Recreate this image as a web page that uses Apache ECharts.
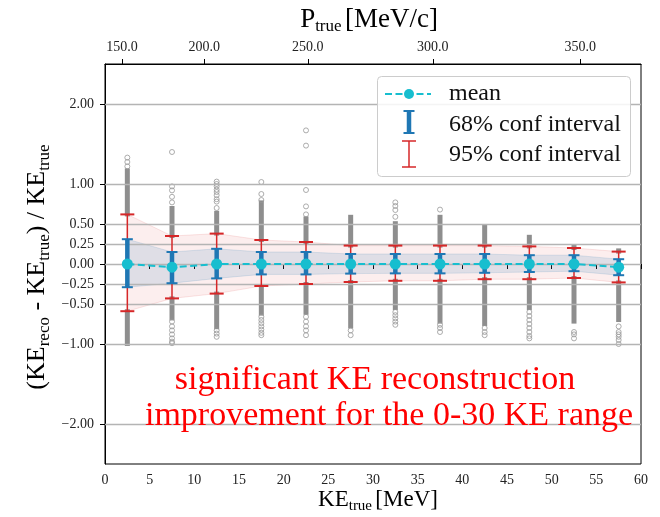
<!DOCTYPE html>
<html><head><meta charset="utf-8">
<script src="https://cdn.jsdelivr.net/npm/echarts@6/dist/echarts.min.js"></script>
<style>html,body{margin:0;padding:0;background:#fff}#c{width:660px;height:517px}</style>
</head><body><div id="c"></div>
<script>
// ---- data ----
const binCenters = [2.5, 7.5, 12.5, 17.5, 22.5, 27.5, 32.5, 37.5, 42.5, 47.5, 52.5, 57.5];
const means  = [0.00, -0.04, 0.00, 0.00, 0.00, 0.00, 0.00, 0.00, 0.00, 0.00, 0.00, -0.04];
const ci68Lo = [-0.29, -0.24, -0.18, -0.13, -0.13, -0.12, -0.117, -0.117, -0.11, -0.10, -0.09, -0.14];
const ci68Hi = [0.31, 0.15, 0.19, 0.15, 0.15, 0.125, 0.125, 0.125, 0.125, 0.11, 0.11, 0.06];
const ci95Lo = [-0.59, -0.43, -0.37, -0.275, -0.25, -0.225, -0.21, -0.21, -0.19, -0.19, -0.175, -0.23];
const ci95Hi = [0.62, 0.35, 0.38, 0.30, 0.275, 0.23, 0.23, 0.23, 0.23, 0.22, 0.20, 0.155];
// dense stacks of outlier points beyond the 95% interval
const denseTop    = [1.17, 0.70, 0.64, 0.77, 0.57, 0.59, 0.51, 0.59, 0.47, 0.34, 0.22, 0.17];
const denseBottom = [-1.00, -0.68, -0.79, -0.62, -0.61, -0.78, -0.55, -0.72, -0.75, -0.55, -0.72, -0.70];
// individually visible outlier points per bin
const sparsePoints = [
  [1.33, 1.275, 1.22],
  [1.40, 0.97, 0.92, 0.84, 0.77, -0.72, -0.78, -0.83, -0.88, -0.93, -0.97, -0.99],
  [1.03, 1.00, 0.97, 0.93, 0.90, 0.86, 0.81, 0.78, 0.70, -0.83, -0.87, -0.91],
  [1.025, 0.875, 0.80, -0.66, -0.70, -0.74, -0.78, -0.82, -0.86, -0.89],
  [1.67, 1.48, 0.925, 0.72, 0.62, -0.66, -0.72, -0.78, -0.83, -0.89],
  [-0.83, -0.89],
  [0.77, 0.725, 0.675, 0.59, -0.60, -0.64, -0.68, -0.72, -0.76],
  [0.68, -0.76, -0.80, -0.85],
  [-0.80, -0.85, -0.89],
  [-0.60, -0.65, -0.70, -0.75, -0.80, -0.85, -0.90, -0.93],
  [-0.85, -0.88, -0.93],
  [-0.78, -0.85, -0.88, -0.91, -0.95, -1.00]
];
const yTicks = [-2, -1, -0.5, -0.25, 0, 0.25, 0.5, 1, 2];
const xTickInterval = 5;
const topTickPos = [1.9, 11.1, 22.7, 36.7, 53.2];      // KE position of each momentum tick
const topTickLabels = ['150.0', '200.0', '250.0', '300.0', '350.0'];

// ---- build ----
const SERIF = '"Liberation Serif", "DejaVu Serif", serif';
const chart = echarts.init(document.getElementById('c'));

const scatterData = [];
sparsePoints.forEach((arr, i) => arr.forEach(v => scatterData.push([binCenters[i], v])));
const denseData = [];
binCenters.forEach((x, i) => {
  denseData.push([x, ci95Hi[i], denseTop[i]]);
  denseData.push([x, denseBottom[i], ci95Lo[i]]);
});
const err95Data = binCenters.map((x, i) => [x, ci95Lo[i], ci95Hi[i]]);
const err68Data = binCenters.map((x, i) => [x, ci68Lo[i], ci68Hi[i]]);

function bandRender(lo, hi, fill, stroke) {
  return function (params, api) {
    const up = binCenters.map((x, i) => api.coord([x, hi[i]]));
    const dn = binCenters.map((x, i) => api.coord([x, lo[i]])).reverse();
    return { type: 'polygon', shape: { points: up.concat(dn) },
             style: { fill: fill, stroke: stroke, lineWidth: 1 } };
  };
}
function errRender(src, color, lw, capHalf, capW) {
  return function (params, api) {
    const d = src[params.dataIndex];
    const pt = api.coord([d[0], d[2]]), pb = api.coord([d[0], d[1]]);
    return { type: 'group', children: [
      { type: 'line', shape: { x1: pt[0], y1: pt[1], x2: pb[0], y2: pb[1] }, style: { stroke: color, lineWidth: lw } },
      { type: 'line', shape: { x1: pt[0] - capHalf, y1: pt[1], x2: pt[0] + capHalf, y2: pt[1] }, style: { stroke: color, lineWidth: capW } },
      { type: 'line', shape: { x1: pb[0] - capHalf, y1: pb[1], x2: pb[0] + capHalf, y2: pb[1] }, style: { stroke: color, lineWidth: capW } }
    ]};
  };
}
function denseRender(params, api) {
  const d = denseData[params.dataIndex];
  const pt = api.coord([d[0], d[2]]), pb = api.coord([d[0], d[1]]);
  return { type: 'rect', shape: { x: pt[0] - 2.5, y: pt[1] - 2, width: 5, height: pb[1] - pt[1] + 4 },
           style: { fill: '#8e8e8e' } };
}
const fmtY = v => (v < 0 ? '\u2212' : '') + Math.abs(v).toFixed(2);

const labelCommon = { fontFamily: SERIF, fontSize: 14, color: '#222' };
const subRich = (main, sub, lh) => ({
  a: { fontFamily: SERIF, fontSize: main, lineHeight: lh, color: '#111', verticalAlign: 'middle' },
  s: { fontFamily: SERIF, fontSize: sub, lineHeight: lh, color: '#111', verticalAlign: 'bottom' }
});

const option = {
  animation: false,
  backgroundColor: '#fff',
  grid: { left: 105, right: 19, top: 64, bottom: 53, show: true, borderColor: '#000', borderWidth: 1, backgroundColor: 'transparent' },
  xAxis: [
    { type: 'value', min: 0, max: 60, interval: xTickInterval, position: 'bottom',
      axisLine: { show: true, lineStyle: { color: '#000', width: 1 } },
      axisTick: { show: true, length: 5, lineStyle: { color: '#000' } },
      axisLabel: Object.assign({ margin: 9 }, labelCommon),
      splitLine: { show: false } },
    { type: 'value', min: 0, max: 60, position: 'top',
      axisLine: { show: true, lineStyle: { color: '#000', width: 1 } },
      axisTick: { show: true, length: 5, customValues: topTickPos, lineStyle: { color: '#000' } },
      axisLabel: Object.assign({ margin: 10, customValues: topTickPos,
        formatter: v => topTickLabels[topTickPos.indexOf(v)] }, labelCommon),
      splitLine: { show: false } }
  ],
  yAxis: { type: 'value', min: -2.5, max: 2.5,
    axisLine: { show: true, lineStyle: { color: '#000', width: 1 } },
    axisTick: { show: true, length: 5, customValues: yTicks, lineStyle: { color: '#000' } },
    axisLabel: Object.assign({ margin: 11, customValues: yTicks, formatter: fmtY }, labelCommon),
    splitLine: { show: false } },
  series: [
    { type: 'scatter', data: [], z: 1, silent: true,
      markLine: { silent: true, symbol: ['none', 'none'], label: { show: false },
        lineStyle: { color: '#b4b4b4', width: 1.3, type: 'solid' },
        data: yTicks.map(v => ({ yAxis: v })) } },
    { type: 'custom', data: [[0, 0]], z: 2, silent: true,
      renderItem: bandRender(ci95Lo, ci95Hi, 'rgba(214,39,40,0.08)', 'rgba(214,39,40,0.12)') },
    { type: 'custom', data: [[0, 0]], z: 3, silent: true,
      renderItem: bandRender(ci68Lo, ci68Hi, 'rgba(31,119,180,0.13)', 'rgba(31,119,180,0.14)') },
    { type: 'custom', data: denseData, z: 4, silent: true, renderItem: denseRender },
    { type: 'scatter', data: scatterData, z: 4, silent: true, symbol: 'circle', symbolSize: 5,
      itemStyle: { color: 'rgba(255,255,255,0)', borderColor: '#999', borderWidth: 1 } },
    { type: 'custom', data: err95Data, z: 5, silent: true,
      renderItem: errRender(err95Data, '#d62728', 1.5, 7, 2) },
    { type: 'custom', data: err68Data, z: 6, silent: true,
      renderItem: errRender(err68Data, '#1f77b4', 4.5, 5.5, 2) },
    { type: 'line', data: binCenters.map((x, i) => [x, means[i]]), z: 7, silent: true,
      symbol: 'circle', symbolSize: 11, showSymbol: true,
      itemStyle: { color: '#17becf' },
      lineStyle: { color: '#17becf', width: 2, type: [7, 3.5] } }
  ],
  graphic: [
    // axis titles
    { type: 'text', x: 369, y: 20, z: 10, style: { text: '{a|P}{s|true} {a|[MeV/c]}', rich: subRich(27, 17, 30), align: 'center', verticalAlign: 'middle' } },
    { type: 'text', x: 378, y: 500, z: 10, style: { text: '{a|KE}{s|true} {a|[MeV]}', rich: subRich(23, 15, 28), align: 'center', verticalAlign: 'middle' } },
    { type: 'text', x: 37, y: 267, rotation: Math.PI / 2, z: 10,
      style: { text: '{a|(KE}{s|reco}{a| - KE}{s|true}{a|) / KE}{s|true}', rich: subRich(26, 17, 32), align: 'center', verticalAlign: 'middle' } },
    // legend
    { type: 'rect', z: 20, shape: { x: 377.5, y: 76.5, width: 253, height: 100, r: 4 },
      style: { fill: 'rgba(255,255,255,0.85)', stroke: '#cccccc', lineWidth: 1 } },
    { type: 'line', z: 21, shape: { x1: 385, y1: 94, x2: 431, y2: 94 }, style: { stroke: '#17becf', lineWidth: 2, lineDash: [7, 3.5] } },
    { type: 'circle', z: 21, shape: { cx: 409, cy: 94, r: 5 }, style: { fill: '#17becf' } },
    { type: 'line', z: 21, shape: { x1: 409, y1: 111, x2: 409, y2: 133 }, style: { stroke: '#1f77b4', lineWidth: 4.5 } },
    { type: 'line', z: 21, shape: { x1: 403.5, y1: 111, x2: 414.5, y2: 111 }, style: { stroke: '#1f77b4', lineWidth: 2 } },
    { type: 'line', z: 21, shape: { x1: 403.5, y1: 133, x2: 414.5, y2: 133 }, style: { stroke: '#1f77b4', lineWidth: 2 } },
    { type: 'line', z: 21, shape: { x1: 409, y1: 141, x2: 409, y2: 167 }, style: { stroke: '#d62728', lineWidth: 1.5 } },
    { type: 'line', z: 21, shape: { x1: 402, y1: 141, x2: 416, y2: 141 }, style: { stroke: '#d62728', lineWidth: 1.5 } },
    { type: 'line', z: 21, shape: { x1: 402, y1: 167, x2: 416, y2: 167 }, style: { stroke: '#d62728', lineWidth: 1.5 } },
    { type: 'text', z: 21, x: 449, y: 94, style: { text: 'mean', font: '24px ' + SERIF, fill: '#111', verticalAlign: 'middle' } },
    { type: 'text', z: 21, x: 449, y: 125, style: { text: '68% conf interval', font: '24px ' + SERIF, fill: '#111', verticalAlign: 'middle' } },
    { type: 'text', z: 21, x: 449, y: 155, style: { text: '95% conf interval', font: '24px ' + SERIF, fill: '#111', verticalAlign: 'middle' } },
    // annotation
    { type: 'text', z: 22, x: 375, y: 380, style: { text: 'significant KE reconstruction', font: '34px ' + SERIF, fill: '#ff0000', align: 'center', verticalAlign: 'middle' } },
    { type: 'text', z: 22, x: 389, y: 416, style: { text: 'improvement for the 0-30 KE range', font: '34px ' + SERIF, fill: '#ff0000', align: 'center', verticalAlign: 'middle' } }
  ]
};
chart.setOption(option);
</script>
</body></html>
